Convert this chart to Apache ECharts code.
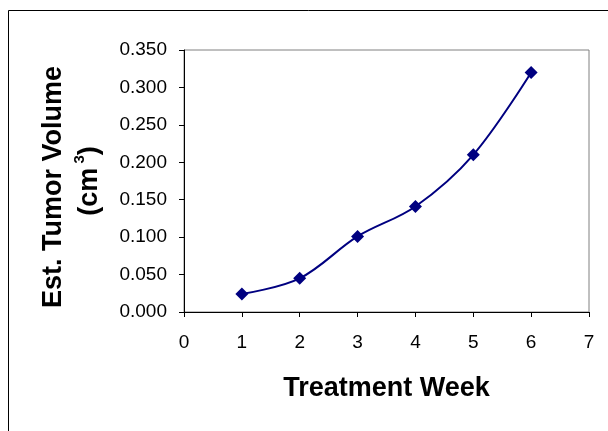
<!DOCTYPE html>
<html>
<head>
<meta charset="utf-8">
<script src="https://cdn.jsdelivr.net/npm/echarts@6/dist/echarts.min.js"></script>
<style>
html,body{margin:0;padding:0;background:#fff;}
#chart{width:608px;height:431px;}
</style>
</head>
<body>
<div id="chart"></div>
<script>
var weeks = [1, 2, 3, 4, 5, 6];
var volumes = [0.024, 0.045, 0.101, 0.141, 0.210, 0.320];
var xTicks = [0, 1, 2, 3, 4, 5, 6, 7];
var yTickLabels = ['0.000','0.050','0.100','0.150','0.200','0.250','0.300','0.350'];

var font = 'Liberation Sans, Arial, sans-serif';
var chart = echarts.init(document.getElementById('chart'), null, {renderer: 'canvas'});
chart.setOption({
  animation: false,
  backgroundColor: '#ffffff',
  graphic: [{
    type: 'rect',
    shape: {x: 8.5, y: 10.5, width: 700, height: 500},
    style: {fill: 'none', stroke: '#000', lineWidth: 1},
    silent: true, z: -10
  }],
  grid: {
    left: 184, top: 50, right: 19, bottom: 119,
    show: true, borderColor: '#808080', borderWidth: 1, backgroundColor: 'transparent'
  },
  xAxis: {
    type: 'value', min: 0, max: 7, interval: 1,
    name: 'Treatment Week', nameLocation: 'middle', nameGap: 63,
    nameTextStyle: {fontFamily: font, fontSize: 27, fontWeight: 'bold', color: '#000'},
    axisLine: {show: true, onZero: false, lineStyle: {color: '#000', width: 1}},
    axisTick: {show: true, inside: false, length: 5, lineStyle: {color: '#000'}},
    axisLabel: {fontFamily: font, fontSize: 19, color: '#000', margin: 21,
      formatter: function (v) { return String(xTicks[Math.round(v)]); }},
    splitLine: {show: false}
  },
  yAxis: {
    type: 'value', min: 0, max: 0.35, interval: 0.05,
    name: '{b|Est. Tumor Volume}\n{a|(cm}{s| 3}{a|)}',
    nameLocation: 'middle', nameGap: 76, nameRotate: 90,
    nameTextStyle: {
      rich: {
        a: {fontFamily: font, fontSize: 27, fontWeight: 'bold', color: '#000', lineHeight: 36},
        b: {fontFamily: font, fontSize: 27, fontWeight: 'bold', color: '#000', lineHeight: 36, padding: [0, 12, 0, 0]},
        s: {fontFamily: font, fontSize: 15, fontWeight: 'bold', color: '#000', lineHeight: 15, verticalAlign: 'top'}
      }
    },
    axisLine: {show: true, lineStyle: {color: '#000', width: 1}},
    axisTick: {show: true, inside: false, length: 5, lineStyle: {color: '#000'}},
    axisLabel: {fontFamily: font, fontSize: 19, color: '#000', margin: 17,
      formatter: function (v) { return yTickLabels[Math.round(v / 0.05)]; }},
    splitLine: {show: false}
  },
  series: [{
    type: 'line',
    data: weeks.map(function (w, i) { return [w, volumes[i]]; }),
    smooth: 0.35,
    symbol: 'diamond', symbolSize: 13,
    lineStyle: {color: '#000080', width: 2},
    itemStyle: {color: '#000080'}
  }]
});
</script>
</body>
</html>
